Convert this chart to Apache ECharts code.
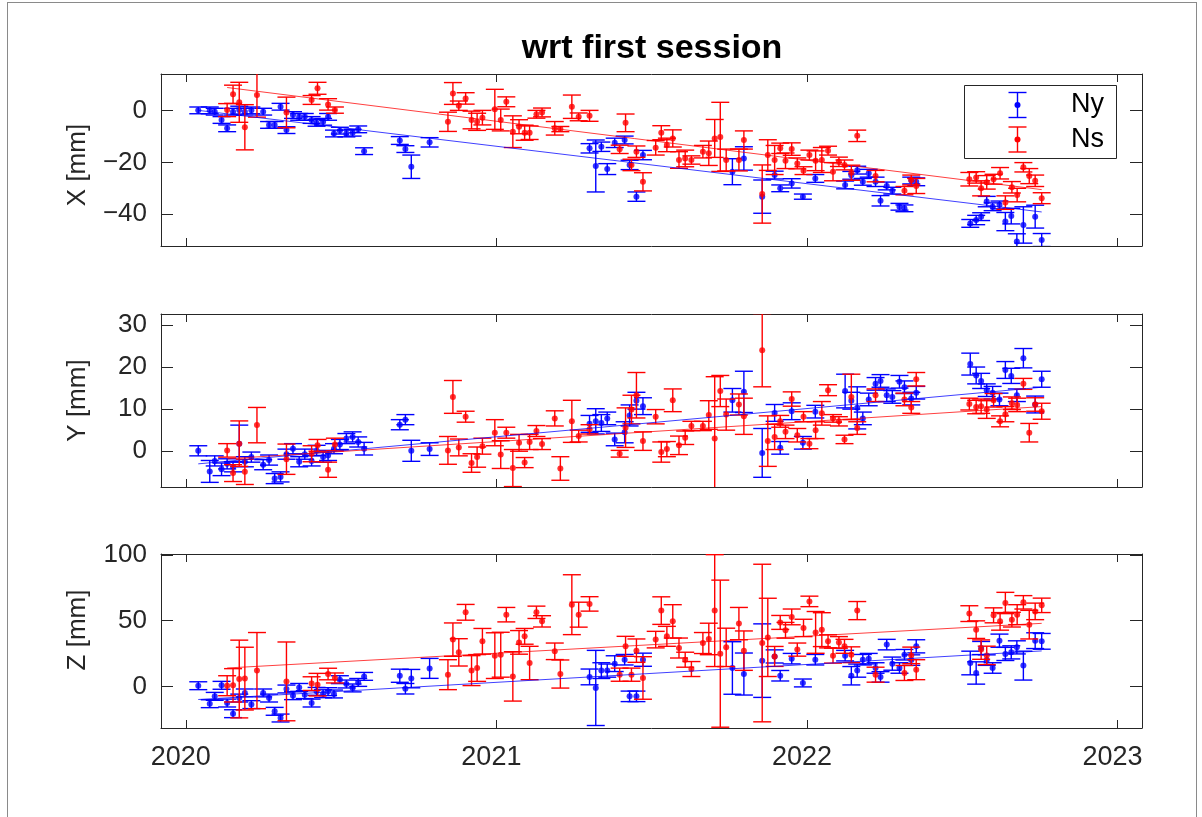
<!DOCTYPE html>
<html>
<head>
<meta charset="utf-8">
<title>wrt first session</title>
<script src="https://cdn.jsdelivr.net/npm/echarts@6/dist/echarts.min.js"></script>
<style>
  html, body { margin: 0; padding: 0; background: #ffffff; }
  #chart { position: absolute; left: 0; top: 0; width: 1202px; height: 817px; }
  #frame { position: absolute; left: 7px; top: 2px; width: 1190px; height: 830px;
           border: 1px solid #8a8a8a; box-sizing: border-box; pointer-events: none; }
</style>
</head>
<body>
<div id="chart"></div>
<div id="frame"></div>
<script>
// ---- tick labels ----
const yearTicks = [2020, 2021, 2022, 2023];
const xTicks = [-40, -20, 0];
const yTicks = [0, 10, 20, 30];
const zTicks = [0, 50, 100];

// ---- Ny sessions (decimal year) and displacements [mm] with 1-sigma errors ----
const nyTime = [
  2020.040, 2020.077, 2020.093, 2020.115, 2020.133, 2020.152, 2020.172, 2020.190, 2020.211, 2020.249,
  2020.268, 2020.286, 2020.305, 2020.324, 2020.345, 2020.365, 2020.383, 2020.405, 2020.421, 2020.442,
  2020.458, 2020.477, 2020.496, 2020.517, 2020.537, 2020.555, 2020.574, 2020.689, 2020.707, 2020.726,
  2020.785, 2021.300, 2021.320, 2021.338, 2021.357, 2021.381, 2021.413, 2021.429, 2021.451, 2021.472,
  2021.760, 2021.797, 2021.856, 2021.896, 2021.914, 2021.951, 2021.987, 2022.027, 2022.123, 2022.143,
  2022.162, 2022.180, 2022.199, 2022.221, 2022.237, 2022.257, 2022.275, 2022.298, 2022.314, 2022.336,
  2022.352, 2022.526, 2022.545, 2022.561, 2022.579, 2022.598, 2022.620, 2022.639, 2022.658, 2022.676,
  2022.697, 2022.735, 2022.756
];
const nyX = [
  0.0, 0.0, -0.5, -3.7, -6.9, -0.5, 0.1, -0.5, 0.0, -0.5,
  -5.6, -5.6, 1.4, -7.6, -1.8, -2.5, -2.5, -3.7, -4.8, -4.4,
  -2.5, -8.9, -7.8, -8.9, -8.6, -7.3, -15.7, -11.6, -14.9, -21.7,
  -12.3, -14.6, -21.4, -14.0, -22.6, -12.5, -11.4, -21.0, -33.2, -17.2,
  -23.6, -18.5, -33.2, -24.9, -30.0, -28.1, -33.2, -26.2, -28.7, -25.0,
  -23.0, -27.5, -24.2, -27.5, -34.8, -29.1, -30.9, -37.1, -37.7, -27.0,
  -27.5, -43.5, -42.2, -40.9, -35.1, -37.1, -36.4, -42.8, -40.7, -50.5,
  -44.1, -40.9, -49.9
];
const nyXErr = [
  1.3, 1.3, 1.3, 1.3, 1.3, 1.3, 1.5, 1.3, 1.3, 1.3,
  1.3, 1.3, 1.3, 1.3, 1.3, 1.3, 1.3, 1.3, 1.3, 1.3,
  1.3, 1.3, 1.3, 1.3, 1.3, 1.3, 1.3, 1.5, 1.3, 4.5,
  1.8, 1.8, 10.0, 1.8, 2.1, 1.8, 1.5, 1.8, 1.8, 1.8,
  5.0, 4.5, 6.4, 1.5, 1.3, 1.8, 1.0, 1.5, 1.5, 1.5,
  1.5, 1.3, 1.5, 1.8, 2.0, 1.5, 1.3, 1.3, 1.3, 1.3,
  1.5, 1.5, 1.8, 1.5, 2.0, 1.5, 1.5, 3.5, 3.0, 3.0,
  7.0, 4.4, 2.5
];
const nyY = [
  0.1, -4.8, -2.3, -4.3, -3.0, -3.7, 1.8, -2.5, -1.4, -3.2,
  -2.1, -6.5, -6.1, -0.7, 0.6, -2.5, -0.7, -2.3, 0.2, -1.4,
  -1.0, 0.6, 1.6, 3.0, 3.4, 2.2, 0.6, 6.3, 7.5, 0.1,
  0.5, 6.5, 7.1, 6.7, 7.8, 2.8, 4.5, 8.5, 12.0, 10.7,
  12.1, 14.1, -0.4, 9.1, 0.8, 9.5, 2.0, 9.4, 14.3, 12.0,
  10.3, 7.8, 12.3, 16.0, 16.7, 13.3, 12.9, 16.5, 15.2, 12.5,
  13.9, 20.7, 18.0, 16.7, 14.5, 13.9, 12.3, 19.3, 17.9, 13.3,
  22.1, 11.1, 17.1
];
const nyYErr = [
  1.2, 2.6, 1.2, 1.5, 1.2, 1.2, 4.4, 1.2, 1.2, 1.2,
  1.2, 1.2, 1.2, 1.2, 1.2, 1.2, 1.2, 1.2, 1.2, 1.2,
  1.2, 1.2, 1.2, 1.2, 1.2, 1.2, 1.5, 1.2, 1.2, 2.5,
  1.5, 2.0, 3.0, 2.0, 1.5, 1.5, 2.5, 2.5, 2.0, 2.0,
  2.8, 4.9, 5.8, 2.0, 1.5, 2.0, 1.5, 1.5, 4.0, 2.0,
  5.0, 1.5, 1.5, 1.5, 1.5, 1.5, 1.5, 1.5, 1.5, 1.5,
  1.5, 2.6, 2.0, 1.8, 1.5, 1.5, 1.5, 2.0, 1.8, 1.5,
  2.3, 2.0, 1.9
];
const nyZ = [
  0.5, -13.2, -7.6, 0.8, -12.7, -20.8, -8.9, -5.0, -13.9, -5.0,
  -8.9, -19.0, -24.1, -2.0, -7.1, -0.8, -6.3, -12.7, -3.8, -5.6,
  -4.0, -5.8, 5.1, 1.8, -1.2, 3.0, 7.6, 8.1, -1.8, 5.9,
  13.7, 7.2, -1.2, 12.0, 12.0, 17.3, 20.3, -7.6, -7.6, 20.3,
  14.0, 9.4, 19.6, 22.8, 8.1, 21.1, 2.6, 20.3, 23.4, 8.1,
  12.0, 20.3, 21.1, 14.0, 7.2, 31.8, 17.3, 14.0, 24.1, 20.0,
  30.5, 17.8, 10.2, 29.2, 20.0, 14.0, 34.8, 24.7, 25.9, 29.7,
  15.8, 34.8, 34.3
];
const nyZErr = [
  3, 3, 3, 3, 3, 3, 3, 3, 3, 3,
  3, 3, 3, 3, 3, 3, 3, 3, 3, 3,
  3, 3, 3, 3, 3, 3, 3, 5, 4, 7,
  7.6, 6, 28.6, 6, 5, 6, 4, 4, 4, 5,
  20, 16, 28, 5, 4, 4, 3, 4, 4, 7,
  5, 4, 4, 4, 4, 4, 5, 4, 4, 4,
  5, 9, 8.5, 5, 4, 4, 5, 5, 5, 5,
  11, 6, 6
];

// ---- Ns sessions ----
const nsTime = [
  2020.133, 2020.152, 2020.172, 2020.190, 2020.229, 2020.324, 2020.405, 2020.424, 2020.458, 2020.480,
  2020.844, 2020.860, 2020.879, 2020.901, 2020.920, 2020.938, 2020.955, 2020.995, 2021.014, 2021.032,
  2021.053, 2021.073, 2021.091, 2021.107, 2021.129, 2021.147, 2021.188, 2021.206, 2021.243, 2021.265,
  2021.300, 2021.397, 2021.416, 2021.435, 2021.451, 2021.472, 2021.513, 2021.531, 2021.549, 2021.568,
  2021.588, 2021.608, 2021.628, 2021.665, 2021.684, 2021.703, 2021.721, 2021.740, 2021.781, 2021.797,
  2021.856, 2021.874, 2021.896, 2021.914, 2021.931, 2021.951, 2021.969, 2021.989, 2022.008, 2022.028,
  2022.048, 2022.068, 2022.084, 2022.103, 2022.121, 2022.143, 2022.162, 2022.221, 2022.314, 2022.336,
  2022.352, 2022.523, 2022.545, 2022.561, 2022.579, 2022.601, 2022.622, 2022.639, 2022.660, 2022.677,
  2022.697, 2022.716, 2022.735, 2022.756
];
const nsX = [
  0.1, 6.2, 3.1, -6.5, 5.9, -0.8, 4.0, 8.5, 2.3, 0.1,
  -4.4, 6.5, 1.8, 4.6, -3.7, -4.4, -2.8, 0.4, -3.7, 3.3,
  -8.2, -6.3, -8.6, -8.6, -1.5, -0.8, -6.9, -7.2, 1.4, -2.5,
  -2.1, -15.0, -4.8, -21.0, -15.9, -27.5, -14.4, -8.6, -13.3, -10.8,
  -19.1, -18.5, -19.1, -15.9, -16.5, -10.8, -10.2, -19.1, -19.1, -11.4,
  -32.2, -17.2, -19.1, -14.6, -19.4, -14.9, -20.4, -23.2, -17.2, -19.4,
  -19.1, -15.5, -23.6, -19.8, -21.0, -24.0, -9.8, -25.3, -30.9, -26.8,
  -29.1, -26.5, -25.8, -30.0, -27.7, -26.5, -24.2, -35.5, -29.6, -32.6,
  -21.9, -25.3, -27.1, -33.8
];
const nsXErr = [
  2.5, 3.5, 7.7, 8.7, 8.5, 5.9, 1.7, 2.3, 2.2, 1.2,
  3.7, 4.2, 1.8, 2.2, 3.4, 3.3, 2.8, 7.7, 4.2, 1.9,
  6.1, 2.7, 2.9, 2.6, 1.5, 1.7, 2.6, 1.0, 4.5, 1.5,
  2.1, 1.6, 3.4, 2.2, 2.2, 3.5, 2.8, 2.7, 2.6, 3.3,
  3.2, 3.2, 1.6, 2.4, 4.7, 7.3, 13.3, 4.2, 4.2, 3.5,
  11.2, 5.9, 5.6, 2.0, 3.0, 2.4, 2.1, 1.5, 1.9, 3.8,
  4.8, 1.7, 3.5, 1.8, 1.9, 2.9, 2.2, 2.2, 1.6, 1.9,
  2.9, 2.6, 2.2, 2.9, 2.6, 1.9, 2.2, 2.6, 2.2, 2.6,
  1.8, 2.9, 2.2, 2.1
];
const nsY = [
  0.2, -5.2, 1.8, -4.9, 6.2, -1.9, -0.6, 1.4, -4.4, 1.6,
  0.2, 12.9, 0.9, 8.2, -2.8, -1.4, 1.2, 4.4, -0.8, 4.4,
  -4.0, 2.0, -2.7, 2.2, 4.8, 1.7, 7.8, -4.1, 7.1, 3.6,
  5.2, -0.6, 5.6, 9.9, 13.3, 2.4, 8.2, -0.2, 0.5, 12.1,
  1.4, 3.2, 6.0, 6.0, 8.6, 3.0, 14.3, 8.7, 11.1, 8.3,
  24.0, 2.4, 3.4, 7.1, 4.6, 12.4, 3.8, 8.2, 1.8, 5.0,
  9.0, 14.5, 7.8, 7.1, 2.8, 12.9, 5.5, 13.3, 12.3, 10.4,
  17.1, 11.2, 10.5, 10.7, 9.9, 12.1, 7.1, 8.8, 11.4, 11.0,
  16.0, 4.4, 11.1, 9.5
];
const nsYErr = [
  1.6, 2.0, 5.4, 3.0, 4.2, 3.6, 1.9, 1.4, 1.8, 1.5,
  3.3, 3.9, 2.0, 1.3, 2.2, 2.4, 1.9, 3.1, 3.3, 1.3,
  4.4, 2.0, 1.2, 1.8, 1.3, 1.3, 1.8, 2.8, 5.0, 1.4,
  1.1, 0.8, 4.7, 3.4, 5.4, 2.2, 1.7, 2.4, 1.8, 2.7,
  2.2, 1.6, 1.1, 1.1, 3.4, 14.7, 3.7, 3.7, 2.5, 4.3,
  8.7, 6.0, 3.0, 1.4, 1.6, 1.7, 1.6, 1.2, 1.2, 2.0,
  2.8, 1.3, 0.9, 1.1, 1.0, 5.4, 1.5, 1.5, 1.5, 1.4,
  1.6, 1.4, 1.6, 1.7, 2.1, 1.6, 1.3, 1.8, 1.5, 1.6,
  1.3, 2.2, 1.6, 1.9
];
const nsZ = [
  0.5, 0.8, 5.6, 5.9, 12.0, 3.8, 2.1, 1.3, 9.4, 6.4,
  8.9, 35.6, 25.9, 56.4, 12.0, 14.0, 34.3, 23.4, 24.1, 54.6,
  7.6, 33.5, 38.1, 17.8, 56.4, 49.5, 26.7, 9.4, 62.2, 54.6,
  62.8, 8.9, 30.5, 8.9, 27.2, 6.4, 35.6, 57.7, 38.1, 49.5,
  29.2, 20.3, 13.2, 33.0, 36.1, 57.7, 24.9, 29.7, 47.8, 27.2,
  33.0, 37.3, 22.8, 48.7, 42.7, 52.9, 28.0, 44.5, 64.7, 41.1,
  43.2, 34.3, 23.4, 33.5, 30.5, 24.1, 57.7, 8.9, 10.2, 23.6,
  12.7, 55.4, 43.2, 28.0, 23.6, 54.1, 49.5, 63.5, 50.8, 54.6,
  64.0, 47.0, 57.1, 61.7
];
const nsZErr = [
  7.6, 12.7, 29.6, 23.9, 29.0, 30.0, 5.2, 8.6, 4.4, 3.8,
  11.4, 12.7, 10.4, 6.0, 11.4, 10.2, 9.8, 17.4, 17.1, 5.5,
  18.8, 9.0, 6.0, 12.7, 4.7, 4.3, 6.3, 10.7, 22.8, 9.5,
  5.5, 5.0, 7.6, 5.0, 8.9, 16.2, 6.3, 10.5, 7.6, 12.7,
  7.6, 5.7, 5.7, 8.0, 12.0, 42.6, 56.0, 14.6, 12.3, 15.0,
  60.0, 29.8, 7.6, 5.3, 6.0, 6.0, 5.0, 6.6, 4.0, 15.9,
  12.9, 5.0, 5.7, 4.4, 5.3, 6.0, 6.9, 5.7, 5.7, 6.3,
  7.6, 6.0, 6.7, 7.4, 7.0, 5.7, 6.7, 8.1, 5.6, 7.6,
  5.1, 10.9, 6.3, 5.5
];

// ---- linear trends: [start, end] as [year, mm] ----
const nyTrendX = [[2020.040, 0.0], [2022.756, -39.1]];
const nsTrendX = [[2020.133, 8.8], [2022.756, -30.5]];
const nyTrendY = [[2020.040, -3.0], [2022.756, 15.2]];
const nsTrendY = [[2020.133, -1.8], [2022.756, 10.6]];
const nyTrendZ = [[2020.040, -10.0], [2022.756, 27.0]];
const nsTrendZ = [[2020.133, 14.0], [2022.756, 48.0]];

// ---- styling ----
const BLUE = '#0000ff';
const RED = '#ff0000';
const INK = '#262626';
const FONT = '"Liberation Sans", Arial, Helvetica, sans-serif';
const YEAR_MIN = 2019.92, YEAR_MAX = 2023.079;
const PLOT_LEFT = 161, PLOT_WIDTH = 981;

const panels = [
  { name: 'X [mm]', min: -52.2, max: 14.0, ticks: xTicks, top: 74, height: 172, namePad: [0, 10, 0, 0],
    ny: nyX, nyErr: nyXErr, ns: nsX, nsErr: nsXErr, nyTrend: nyTrendX, nsTrend: nsTrendX },
  { name: 'Y [mm]', min: -8.5, max: 32.6, ticks: yTicks, top: 314, height: 173, namePad: [0, 0, 0, 0],
    ny: nyY, nyErr: nyYErr, ns: nsY, nsErr: nsYErr, nyTrend: nyTrendY, nsTrend: nsTrendY },
  { name: 'Z [mm]', min: -31.7, max: 100.8, ticks: zTicks, top: 554, height: 174, namePad: [0, 0, 0, 22],
    ny: nyZ, nyErr: nyZErr, ns: nsZ, nsErr: nsZErr, nyTrend: nyTrendZ, nsTrend: nsTrendZ }
];

const fmtMinus = v => (v < 0 ? '\u2212' + Math.abs(v) : String(v));
const fmtYear = v => String(v);

function errorBarRenderer(color) {
  return function (params, api) {
    const t = api.value(0), v = api.value(1), e = api.value(2);
    const hi = api.coord([t, v + e]);
    const lo = api.coord([t, v - e]);
    const hw = 9;
    const style = { stroke: color, lineWidth: 1.4, fill: null };
    return {
      type: 'group',
      children: [
        { type: 'line', shape: { x1: hi[0], y1: hi[1], x2: lo[0], y2: lo[1] }, style: style },
        { type: 'line', shape: { x1: hi[0] - hw, y1: hi[1], x2: hi[0] + hw, y2: hi[1] }, style: style },
        { type: 'line', shape: { x1: lo[0] - hw, y1: lo[1], x2: lo[0] + hw, y2: lo[1] }, style: style }
      ]
    };
  };
}

const grid = [], xAxis = [], yAxis = [], series = [];
const n = panels.length;

panels.forEach((p, i) => {
  grid.push({ left: PLOT_LEFT, top: p.top, width: PLOT_WIDTH, height: p.height });

  const axLine = { show: true, onZero: false, lineStyle: { color: INK, width: 1 } };
  // bottom year axis
  xAxis.push({
    type: 'value', gridIndex: i, position: 'bottom', min: YEAR_MIN, max: YEAR_MAX,
    axisLine: axLine,
    axisTick: { show: true, inside: true, length: 8, customValues: yearTicks, lineStyle: { color: INK } },
    axisLabel: { show: i === n - 1, customValues: yearTicks, formatter: fmtYear, fontSize: 27,
                 color: INK, fontFamily: FONT, margin: 16, padding: [0, 10, 0, 0] },
    splitLine: { show: false }
  });
  // left value axis
  yAxis.push({
    type: 'value', gridIndex: i, position: 'left', min: p.min, max: p.max,
    name: p.name, nameLocation: 'middle', nameGap: 70,
    nameTextStyle: { fontSize: 26, color: INK, fontFamily: FONT, padding: p.namePad },
    axisLine: axLine,
    axisTick: { show: true, inside: true, length: 12, customValues: p.ticks, lineStyle: { color: INK } },
    axisLabel: { customValues: p.ticks, formatter: fmtMinus, fontSize: 26, color: INK,
                 fontFamily: FONT, margin: 14 },
    splitLine: { show: false }
  });
});

// mirrored box axes (top / right) with inward ticks
panels.forEach((p, i) => {
  const axLine = { show: true, onZero: false, lineStyle: { color: INK, width: 1 } };
  xAxis.push({
    type: 'value', gridIndex: i, position: 'top', min: YEAR_MIN, max: YEAR_MAX,
    axisLine: axLine,
    axisTick: { show: true, inside: true, length: 8, customValues: yearTicks, lineStyle: { color: INK } },
    axisLabel: { show: false }, splitLine: { show: false }
  });
  yAxis.push({
    type: 'value', gridIndex: i, position: 'right', min: p.min, max: p.max,
    axisLine: axLine,
    axisTick: { show: true, inside: true, length: 12, customValues: p.ticks, lineStyle: { color: INK } },
    axisLabel: { show: false }, splitLine: { show: false }
  });
});

panels.forEach((p, i) => {
  const nyRows = nyTime.map((t, k) => [t, p.ny[k], p.nyErr[k]]);
  const nsRows = nsTime.map((t, k) => [t, p.ns[k], p.nsErr[k]]);
  const axes = { xAxisIndex: i, yAxisIndex: i };

  series.push(Object.assign({
    name: 'Ny', type: 'custom', renderItem: errorBarRenderer(BLUE), data: nyRows,
    encode: { x: 0, y: 1 }, clip: true, z: 2, silent: true
  }, axes));
  series.push(Object.assign({
    name: 'Ny', type: 'scatter', data: nyRows.map(r => [r[0], r[1]]), symbol: 'circle',
    symbolSize: 6, itemStyle: { color: BLUE }, z: 3, silent: true
  }, axes));
  series.push(Object.assign({
    name: 'Ns', type: 'custom', renderItem: errorBarRenderer(RED), data: nsRows,
    encode: { x: 0, y: 1 }, clip: true, z: 4, silent: true
  }, axes));
  series.push(Object.assign({
    name: 'Ns', type: 'scatter', data: nsRows.map(r => [r[0], r[1]]), symbol: 'circle',
    symbolSize: 6, itemStyle: { color: RED }, z: 5, silent: true
  }, axes));
  series.push(Object.assign({
    type: 'line', data: p.nyTrend, symbol: 'none', silent: true, z: 6,
    lineStyle: { color: BLUE, width: 1, opacity: 0.75 }
  }, axes));
  series.push(Object.assign({
    type: 'line', data: p.nsTrend, symbol: 'none', silent: true, z: 6,
    lineStyle: { color: RED, width: 1, opacity: 0.75 }
  }, axes));
});

// legend box with error-bar glyphs
function legendGlyph(cx, cy, color) {
  const s = { stroke: color, lineWidth: 1.4 };
  return [
    { type: 'line', z: 101, shape: { x1: cx, y1: cy - 12.5, x2: cx, y2: cy + 12.5 }, style: s },
    { type: 'line', z: 101, shape: { x1: cx - 9, y1: cy - 12.5, x2: cx + 9, y2: cy - 12.5 }, style: s },
    { type: 'line', z: 101, shape: { x1: cx - 9, y1: cy + 12.5, x2: cx + 9, y2: cy + 12.5 }, style: s },
    { type: 'circle', z: 102, shape: { cx: cx, cy: cy, r: 3 }, style: { fill: color } }
  ];
}
function textEl(x, y, text, font, align) {
  return { type: 'text', x: x, y: y, z: 102,
           style: { text: text, font: font, fill: '#000', align: align, verticalAlign: 'middle',
                    textAlign: align, textVerticalAlign: 'middle' } };
}

const graphic = [].concat(
  [textEl(652, 49, 'wrt first session', 'bold 34px ' + FONT, 'center'),
   { type: 'rect', z: 100, shape: { x: 964.5, y: 85.5, width: 152, height: 73 },
     style: { fill: '#ffffff', stroke: INK, lineWidth: 1 } }],
  legendGlyph(1017.5, 105, BLUE),
  legendGlyph(1017.5, 139.5, RED),
  [textEl(1071, 105, 'Ny', '27px ' + FONT, 'left'),
   textEl(1071, 139.5, 'Ns', '27px ' + FONT, 'left')]
);

const chart = echarts.init(document.getElementById('chart'), null, { renderer: 'canvas' });
chart.setOption({
  animation: false,
  backgroundColor: '#ffffff',
  grid: grid,
  xAxis: xAxis,
  yAxis: yAxis,
  series: series,
  graphic: graphic
});
</script>
</body>
</html>
